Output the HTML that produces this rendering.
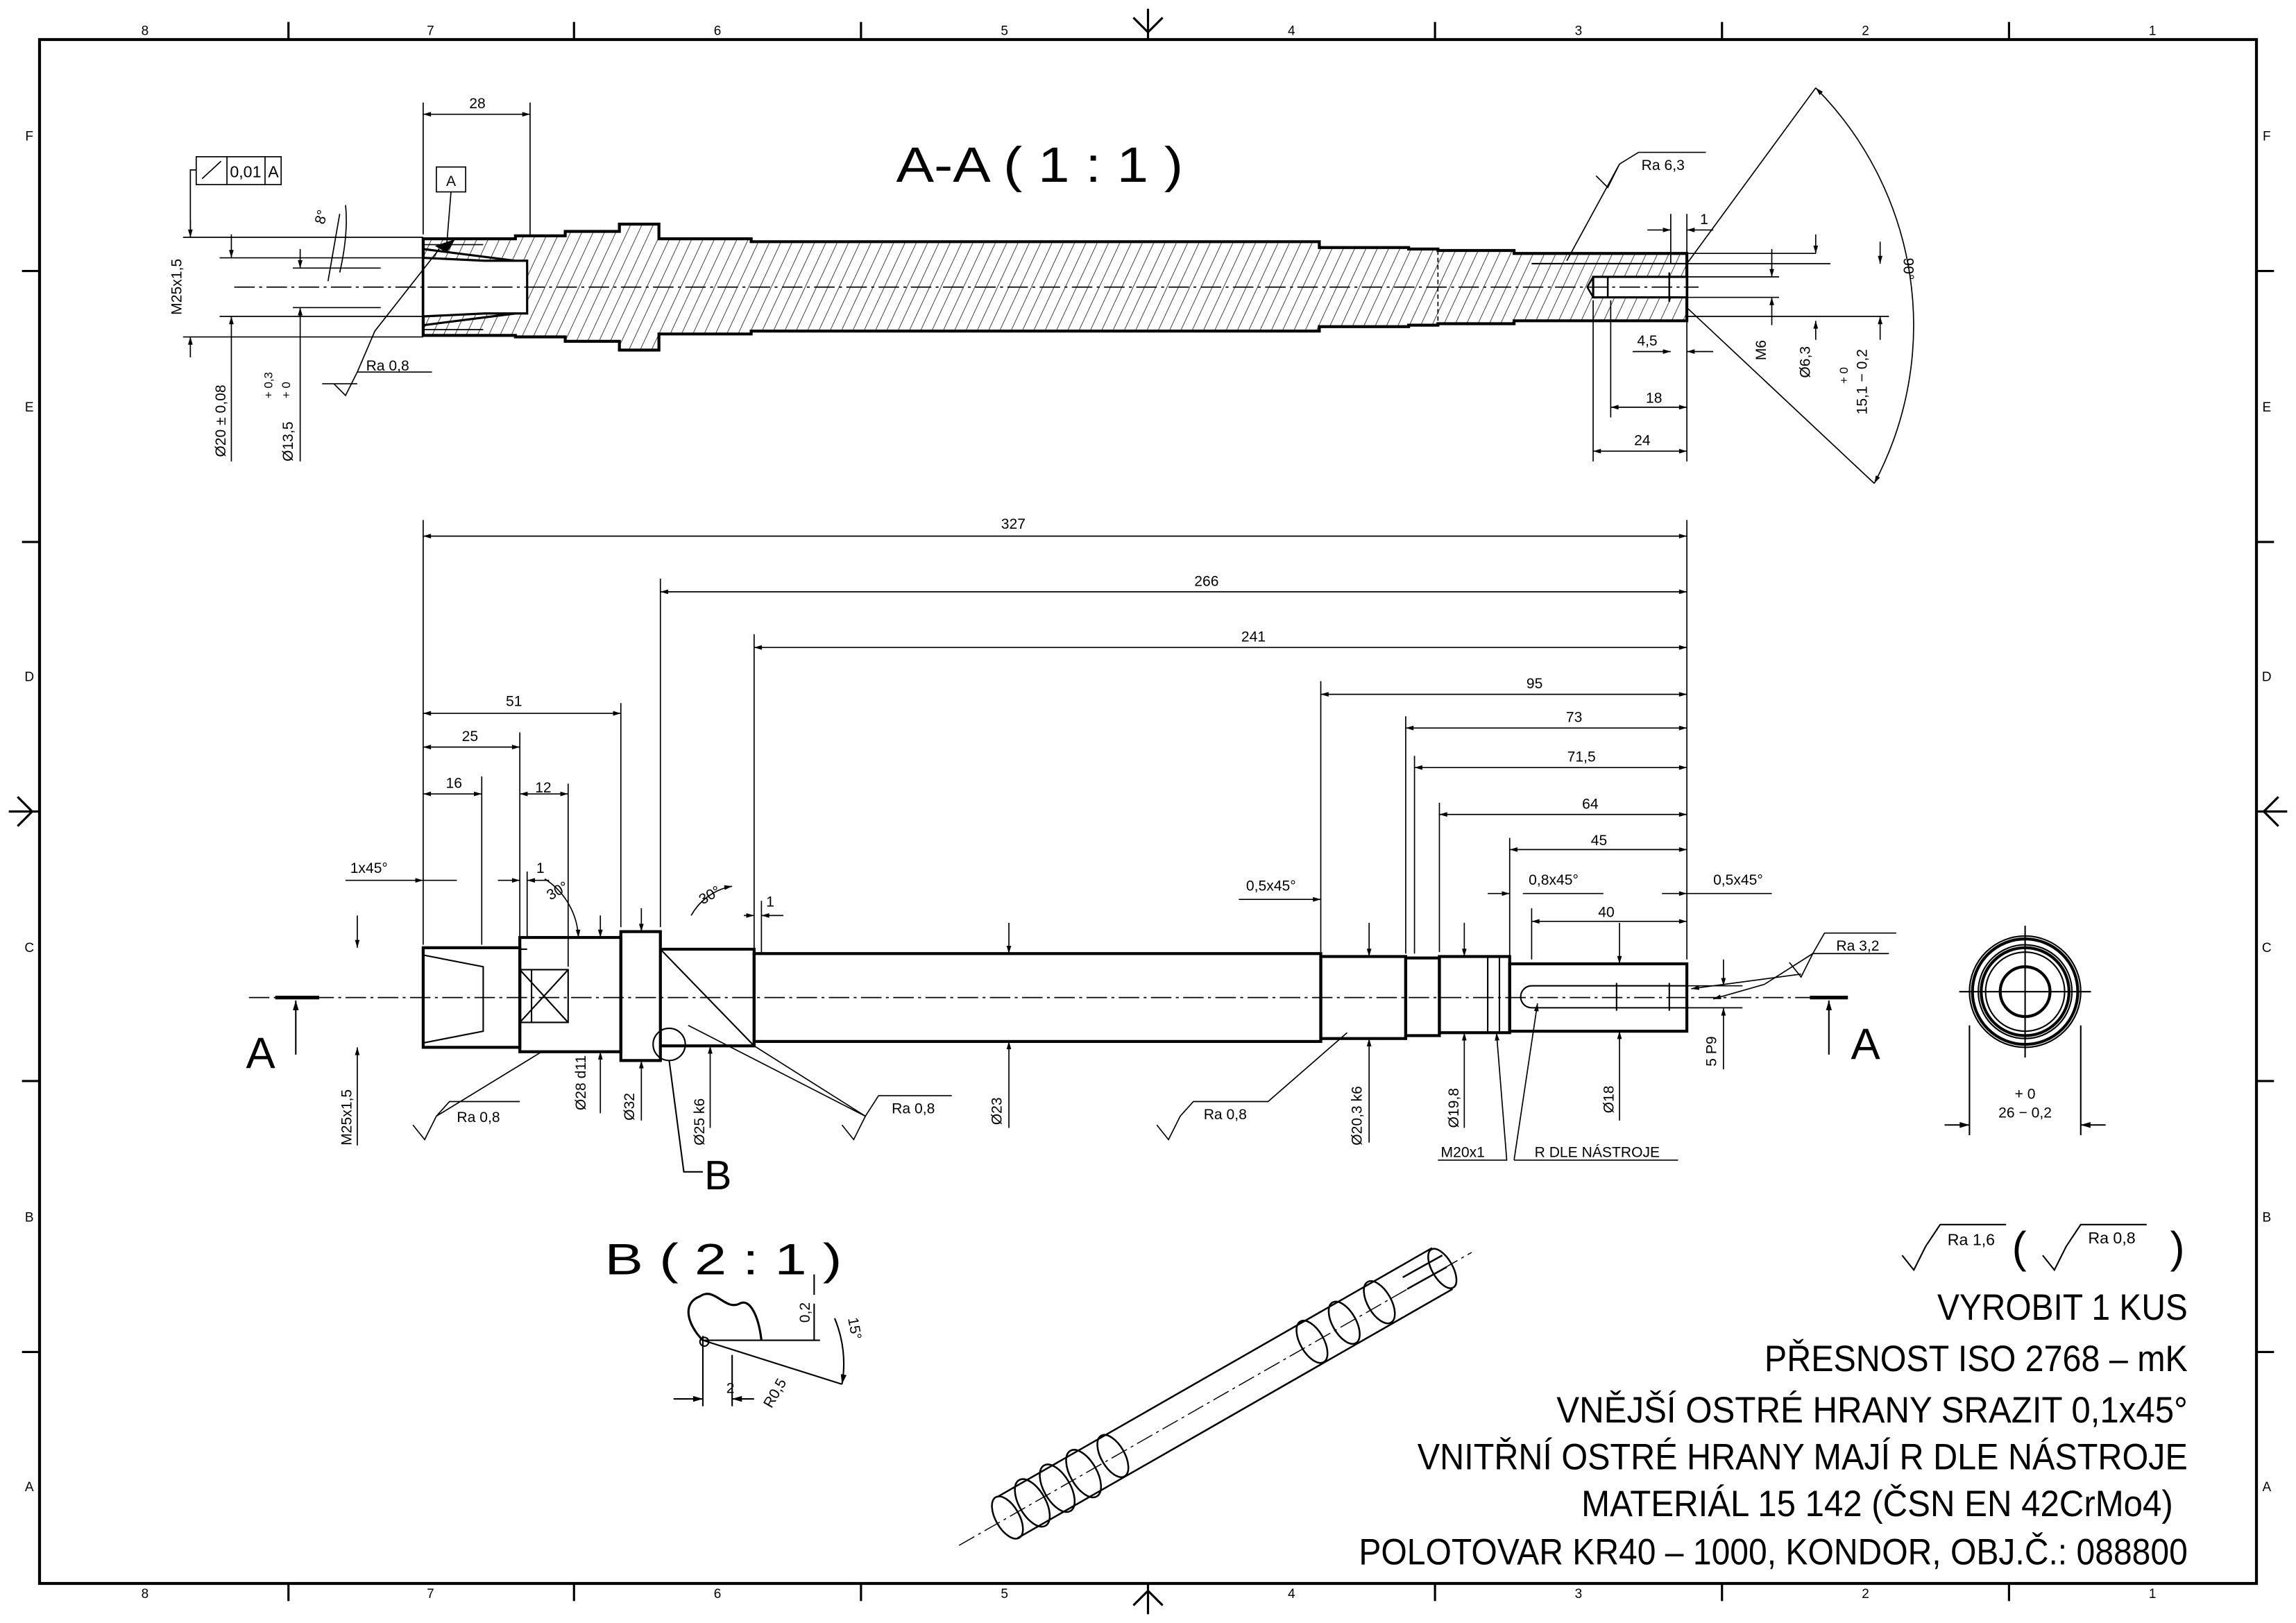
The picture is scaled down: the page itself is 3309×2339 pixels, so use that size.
<!DOCTYPE html>
<html><head><meta charset="utf-8"><style>html,body{margin:0;padding:0;background:#fff}svg{display:block}</style></head>
<body>
<svg width="3309" height="2339" viewBox="0 0 1568 1108" preserveAspectRatio="none" xmlns="http://www.w3.org/2000/svg" font-family="Liberation Sans, DejaVu Sans, sans-serif" fill="none" stroke="#000">
<defs>
<pattern id="h" patternUnits="userSpaceOnUse" width="7" height="7" patternTransform="rotate(25)"><line x1="0" y1="0" x2="0" y2="7" stroke="#000" stroke-width="0.7"/></pattern>
<marker id="a" viewBox="0 0 10 6" refX="10" refY="3" markerWidth="7" markerHeight="4" orient="auto-start-reverse"><path d="M0,0L10,3L0,6z" fill="#000" stroke="none"/></marker>
</defs>
<rect x="0" y="0" width="1568" height="1108" fill="#fff" stroke="none"/>
<rect x="27" y="27" width="1514" height="1054" stroke-width="2"/>
<g stroke-width="1.5">
<path d="M197,15V27M392,15V27M588,15V27M980,15V27M1176,15V27M1372,15V27M197,1081V1093M392,1081V1093M588,1081V1093M980,1081V1093M1176,1081V1093M1372,1081V1093"/>
<path d="M15,185H27M15,370H27M15,738H27M15,923H27M1541,185H1553M1541,370H1553M1541,738H1553M1541,923H1553"/>
<path d="M784,6V27M774,12L784,22L794,12M784,1081V1102M774,1096L784,1086L794,1096M6,554H27M12,544L22,554L12,564M1541,554H1562M1556,544L1546,554L1556,564"/>
</g>
<g fill="#000" stroke="none" font-size="9" text-anchor="middle">
<text x="99" y="24">8</text><text x="294" y="24">7</text><text x="490" y="24">6</text><text x="686" y="24">5</text><text x="882" y="24">4</text><text x="1078" y="24">3</text><text x="1274" y="24">2</text><text x="1470" y="24">1</text>
<text x="99" y="1091">8</text><text x="294" y="1091">7</text><text x="490" y="1091">6</text><text x="686" y="1091">5</text><text x="882" y="1091">4</text><text x="1078" y="1091">3</text><text x="1274" y="1091">2</text><text x="1470" y="1091">1</text>
<text x="20" y="96">F</text><text x="20" y="281">E</text><text x="20" y="465">D</text><text x="20" y="650">C</text><text x="20" y="834">B</text><text x="20" y="1018">A</text>
<text x="1548" y="96">F</text><text x="1548" y="281">E</text><text x="1548" y="465">D</text><text x="1548" y="650">C</text><text x="1548" y="834">B</text><text x="1548" y="1018">A</text>
</g>

<text x="612" y="124" font-size="34" fill="#000" stroke="none" textLength="196" lengthAdjust="spacingAndGlyphs">A-A ( 1 : 1 )</text>
<path d="M289,163H352V161H386V158H423V153H450V163H513V165H901V169H962V170H982V171H1034V173H1152V219H1034V221H982V222H962V223H901V226H513V228H450V239H423V233H386V230H352V229H289Z" fill="url(#h)" stroke-width="2"/>
<path d="M289,176L331,178H360V214H331L289,216Z" fill="#fff" stroke-width="1.5"/>
<path d="M289,170L352,178M289,222L352,214" stroke-width="1.5"/>
<path d="M289,167H330M289,225H330" stroke-width="0.8"/>
<rect x="1088" y="189" width="64" height="14" fill="#fff" stroke-width="1.5"/>
<path d="M1088,189L1084,196L1088,203M1098,189V203M1140,186V206" stroke-width="1.2"/>
<path d="M1046,180H1152" stroke-width="1"/>
<path d="M982,171V221" stroke-width="0.8" stroke-dasharray="3 2"/>
<path d="M160,196H1160" stroke-width="0.8" stroke-dasharray="14 3 2 3"/>
<g stroke-width="0.8">
<path d="M289,70V160M362,70V160"/><path d="M289,78H362" marker-start="url(#a)" marker-end="url(#a)"/>
<text x="326" y="74" font-size="10" fill="#000" stroke="none" text-anchor="middle">28</text>
<rect x="298" y="114" width="20" height="17"/><text x="308" y="127" font-size="10" fill="#000" stroke="none" text-anchor="middle">A</text><path d="M308,131L305,168"/>
<path d="M298,168L310,164L305,172Z" fill="#000"/>
<rect x="134" y="107" width="58" height="19"/><path d="M155,107V126M181,107V126M138,122L151,110"/>
<text x="157" y="121" font-size="11" fill="#000" stroke="none">0,01</text><text x="183" y="121" font-size="11" fill="#000" stroke="none">A</text>
<path d="M134,116H130V162"/>
<path d="M125,162H289M125,230H289M150,176H289M150,216H289M200,183H260M200,210H260"/>
<path d="M130,150V162" marker-end="url(#a)"/><path d="M130,244V230" marker-end="url(#a)"/>
<text transform="translate(124,215) rotate(-90)" font-size="10" fill="#000" stroke="none">M25x1,5</text>
<path d="M158,176V160" marker-start="url(#a)"/><path d="M158,216V315" marker-start="url(#a)"/>
<text transform="translate(154,312) rotate(-90)" font-size="10" fill="#000" stroke="none">Ø20 ± 0,08</text>
<path d="M205,183V170" marker-start="url(#a)"/><path d="M205,210V315" marker-start="url(#a)"/>
<text transform="translate(200,315) rotate(-90)" font-size="10" fill="#000" stroke="none">Ø13,5</text>
<text transform="translate(186,272) rotate(-90)" font-size="8" fill="#000" stroke="none">+ 0,3</text>
<text transform="translate(198,272) rotate(-90)" font-size="8" fill="#000" stroke="none">+ 0</text>
<path d="M228,262L236,270L244,254L256,226L300,170"/><path d="M220,262H244"/><path d="M244,254H295"/>
<text x="250" y="253" font-size="10" fill="#000" stroke="none">Ra 0,8</text>
<path d="M232,146L224,192M236,140 Q238,160 232,186" /><text x="214" y="150" font-size="10" fill="#000" stroke="none" transform="rotate(-75 220 147)">8°</text>
<path d="M1090,120L1098,128L1106,112L1119,104H1165M1106,112L1070,178"/><text x="1121" y="116" font-size="10" fill="#000" stroke="none">Ra 6,3</text>
<path d="M1141,146V180M1152,146V190M1125,157H1141" marker-end="url(#a)"/><path d="M1170,157H1152" marker-end="url(#a)"/>
<text x="1161" y="153" font-size="10" fill="#000" stroke="none">1</text>
<path d="M1152,180H1250M1152,216H1290M1152,189H1215M1152,203H1215M1152,173H1240"/>
<path d="M1088,205V315M1152,205V315M1100,205V285"/>
<path d="M1115,240H1141" marker-end="url(#a)"/><path d="M1170,240H1152" marker-end="url(#a)"/><text x="1118" y="236" font-size="10" fill="#000" stroke="none">4,5</text>
<path d="M1100,278H1152" marker-start="url(#a)" marker-end="url(#a)"/><text x="1124" y="275" font-size="10" fill="#000" stroke="none">18</text>
<path d="M1088,308H1152" marker-start="url(#a)" marker-end="url(#a)"/><text x="1116" y="304" font-size="10" fill="#000" stroke="none">24</text>
<path d="M1210,170V189" marker-end="url(#a)"/><path d="M1210,222V203" marker-end="url(#a)"/>
<text transform="translate(1206,246) rotate(-90)" font-size="10" fill="#000" stroke="none">M6</text>
<path d="M1240,160V173" marker-end="url(#a)"/><path d="M1240,232V219" marker-end="url(#a)"/>
<text transform="translate(1236,258) rotate(-90)" font-size="10" fill="#000" stroke="none">Ø6,3</text>
<path d="M1284,165V180" marker-end="url(#a)"/><path d="M1284,232V216" marker-end="url(#a)"/>
<text transform="translate(1275,283) rotate(-90)" font-size="10" fill="#000" stroke="none">15,1 − 0,2</text>
<text transform="translate(1262,262) rotate(-90)" font-size="8" fill="#000" stroke="none">+ 0</text>
<path d="M1152,180L1240,60M1152,210L1280,330"/>
<path d="M1240,60 A230,230 0 0 1 1280,330" marker-start="url(#a)" marker-end="url(#a)"/>
<text transform="translate(1300,176) rotate(90)" font-size="10" fill="#000" stroke="none">90°</text>
</g>

<g stroke-width="2">
<rect x="289" y="647" width="66" height="68"/>
<rect x="355" y="640" width="69" height="78"/>
<rect x="424" y="636" width="27" height="88"/>
<path d="M451,648H515V714H451"/><path d="M451,648L515,714" stroke-width="1"/>
<rect x="515" y="651" width="387" height="60"/>
<rect x="902" y="653" width="58" height="56"/>
<rect x="960" y="654" width="23" height="53"/>
<rect x="983" y="653" width="48" height="52"/>
<rect x="1031" y="658" width="121" height="46"/>
</g>
<g stroke-width="1">
<path d="M289,652L330,660V704L289,712M330,660V704M355,662H388V698H355ZM355,662L388,698M355,698L388,662M363,662V698"/>
<path d="M355,640V648H360M355,718V710"/>
<path d="M1046,673H1152V688H1046A7,7 0 0 1 1046,673ZM1104,671V690M1140,671V690"/>
<path d="M1016,653V705M1024,653V705"/>
<path d="M170,681H1240" stroke-width="0.8" stroke-dasharray="14 3 2 3"/>
<circle cx="457" cy="713" r="11"/>
</g>
<g stroke-width="2.5"><path d="M188,681H218M1236,681H1262"/></g>
<g stroke-width="1"><path d="M202,720V683" marker-end="url(#a)"/><path d="M1249,720V683" marker-end="url(#a)"/></g>
<text x="168" y="729" font-size="30" fill="#000" stroke="none">A</text>
<text x="1264" y="723" font-size="30" fill="#000" stroke="none">A</text>
<text x="481" y="812" font-size="28" fill="#000" stroke="none">B</text>
<path d="M457,724L467,800H480" stroke-width="1"/>

<g stroke-width="0.8" font-size="10">
<path d="M289,355V645M451,395V633M515,433V648M902,465V650M960,489V651M966,516V651M983,548V650M1031,572V655M1152,355V655M1046,620V655M424,480V633M355,500V640M329,530V645"/>
<path d="M289,366H1152" marker-start="url(#a)" marker-end="url(#a)"/>
<path d="M451,404H1152" marker-start="url(#a)" marker-end="url(#a)"/>
<path d="M515,442H1152" marker-start="url(#a)" marker-end="url(#a)"/>
<path d="M902,474H1152" marker-start="url(#a)" marker-end="url(#a)"/>
<path d="M960,497H1152" marker-start="url(#a)" marker-end="url(#a)"/>
<path d="M966,524H1152" marker-start="url(#a)" marker-end="url(#a)"/>
<path d="M983,556H1152" marker-start="url(#a)" marker-end="url(#a)"/>
<path d="M1031,580H1152" marker-start="url(#a)" marker-end="url(#a)"/>
<path d="M1046,629H1152" marker-start="url(#a)" marker-end="url(#a)"/>
<path d="M289,487H424" marker-start="url(#a)" marker-end="url(#a)"/>
<path d="M289,510H355" marker-start="url(#a)" marker-end="url(#a)"/>
<path d="M289,542H329" marker-start="url(#a)" marker-end="url(#a)"/>
<path d="M355,542H388" marker-start="url(#a)" marker-end="url(#a)"/>
<path d="M388,535V660"/>
<g fill="#000" stroke="none" text-anchor="middle">
<text x="692" y="361">327</text><text x="824" y="400">266</text><text x="856" y="438">241</text>
<text x="1048" y="470">95</text><text x="1075" y="493">73</text><text x="1080" y="520">71,5</text>
<text x="1086" y="552">64</text><text x="1092" y="577">45</text><text x="1097" y="626">40</text>
<text x="351" y="482">51</text><text x="321" y="506">25</text><text x="310" y="538">16</text><text x="371" y="541">12</text>
<text x="252" y="596">1x45°</text><text x="369" y="596">1</text><text x="526" y="619">1</text>
<text x="868" y="608">0,5x45°</text><text x="1061" y="604">0,8x45°</text><text x="1187" y="604">0,5x45°</text>
</g>
<path d="M236,601H289" marker-end="url(#a)"/><path d="M312,601H289"/>
<path d="M340,601H355" marker-end="url(#a)"/><path d="M375,601H360" marker-end="url(#a)"/><path d="M360,595V640"/>
<path d="M508,625H515" marker-end="url(#a)"/><path d="M535,625H520" marker-end="url(#a)"/><path d="M520,615V650"/>
<path d="M846,614H902" marker-end="url(#a)"/><path d="M1016,610H1031" marker-end="url(#a)"/><path d="M1040,610H1095"/>
<path d="M1135,610H1152" marker-end="url(#a)"/><path d="M1210,610H1152"/>
<path d="M372,600 A50,50 0 0 1 395,640" marker-end="url(#a)"/><text x="374" y="612" fill="#000" stroke="none" transform="rotate(-30 380 610)">30°</text>
<path d="M472,625 A40,40 0 0 1 500,605" marker-end="url(#a)"/><text x="478" y="615" fill="#000" stroke="none" transform="rotate(-30 484 613)">30°</text>
<path d="M244,625V647" marker-end="url(#a)"/><path d="M244,782V715" marker-end="url(#a)"/>
<text transform="translate(240,782) rotate(-90)" fill="#000" stroke="none">M25x1,5</text>
<path d="M410,625V640" marker-end="url(#a)"/><path d="M410,760V718" marker-end="url(#a)"/>
<text transform="translate(400,758) rotate(-90)" fill="#000" stroke="none">Ø28 d11</text>
<path d="M438,620V636" marker-end="url(#a)"/><path d="M438,765V724" marker-end="url(#a)"/>
<text transform="translate(433,765) rotate(-90)" fill="#000" stroke="none">Ø32</text>
<path d="M485,770V714" marker-end="url(#a)"/>
<text transform="translate(481,782) rotate(-90)" fill="#000" stroke="none">Ø25 k6</text>
<path d="M689,630V651" marker-end="url(#a)"/><path d="M689,770V711" marker-end="url(#a)"/>
<text transform="translate(684,768) rotate(-90)" fill="#000" stroke="none">Ø23</text>
<path d="M935,630V653" marker-end="url(#a)"/><path d="M935,780V709" marker-end="url(#a)"/>
<text transform="translate(930,782) rotate(-90)" fill="#000" stroke="none">Ø20,3 k6</text>
<path d="M1000,630V653" marker-end="url(#a)"/><path d="M1000,770V705" marker-end="url(#a)"/>
<text transform="translate(996,770) rotate(-90)" fill="#000" stroke="none">Ø19,8</text>
<path d="M1106,630V658" marker-end="url(#a)"/><path d="M1106,765V704" marker-end="url(#a)"/>
<text transform="translate(1102,760) rotate(-90)" fill="#000" stroke="none">Ø18</text>
<path d="M1177,655V673" marker-end="url(#a)"/><path d="M1177,730V688" marker-end="url(#a)"/>
<path d="M1150,673H1190M1150,688H1190"/>
<text transform="translate(1172,728) rotate(-90)" fill="#000" stroke="none">5 P9</text>
<path d="M982,792H1029L1022,705" marker-end="url(#a)"/><text x="984" y="790" fill="#000" stroke="none">M20x1</text>
<path d="M1034,792H1146M1034,792L1050,685" marker-end="url(#a)"/><text x="1048" y="790" fill="#000" stroke="none">R DLE NÁSTROJE</text>
<path d="M282,768L290,778L298,762L307,752H355M298,762L370,718"/><text x="312" y="766" fill="#000" stroke="none">Ra 0,8</text>
<path d="M575,768L583,778L591,762L600,748H650M591,762L470,700M591,762L515,714"/><text x="609" y="760" fill="#000" stroke="none">Ra 0,8</text>
<path d="M790,768L798,778L806,762L815,752H866L920,705"/><text x="822" y="764" fill="#000" stroke="none">Ra 0,8</text>
<path d="M1222,657L1230,667L1238,651L1246,637H1295M1238,651H1290M1230,665L1155,675" marker-end="url(#a)"/>
<path d="M1205,672L1170,682" marker-end="url(#a)"/><path d="M1238,651L1205,672"/>
<text x="1254" y="649" fill="#000" stroke="none">Ra 3,2</text>
</g>

<g stroke-width="1">
<circle cx="1383" cy="677" r="38"/><circle cx="1383" cy="677" r="36" stroke-width="2"/>
<circle cx="1383" cy="677" r="32"/><circle cx="1383" cy="677" r="30" stroke-width="2"/>
<circle cx="1383" cy="677" r="27"/><circle cx="1383" cy="677" r="17" stroke-width="2"/>
<path d="M1338,677H1428M1383,632V722"/>
<path d="M1345,700V775M1421,700V775"/>
<path d="M1328,768H1345" marker-end="url(#a)"/><path d="M1438,768H1421" marker-end="url(#a)"/>
<text x="1383" y="750" font-size="10" fill="#000" stroke="none" text-anchor="middle">+ 0</text>
<text x="1383" y="763" font-size="10" fill="#000" stroke="none" text-anchor="middle">26 − 0,2</text>
</g>

<text x="413" y="870" font-size="30" fill="#000" stroke="none" textLength="162" lengthAdjust="spacingAndGlyphs">B ( 2 : 1 )</text>
<g stroke-width="1">
<path d="M480,915 C470,905 465,890 478,885 C488,878 495,895 505,890 C512,886 518,898 520,915" stroke-width="1.5"/>
<path d="M480,915H560M480,915L575,945M480,912V960M500,925V960M556,890V915M556,870V884" />
<circle cx="481" cy="916" r="3"/>
<path d="M460,955H480" marker-end="url(#a)"/><path d="M515,955H500" marker-end="url(#a)"/>
<text x="496" y="951" font-size="10" fill="#000" stroke="none">2</text>
<text transform="translate(553,903) rotate(-90)" font-size="10" fill="#000" stroke="none">0,2</text>
<path d="M570,900 A80,80 0 0 1 575,945" marker-end="url(#a)"/>
<text x="575" y="905" font-size="10" fill="#000" stroke="none" transform="rotate(80 580 905)">15°</text>
<text x="520" y="960" font-size="10" fill="#000" stroke="none" transform="rotate(-60 525 955)">R0,5</text>
</g>

<g stroke-width="1.2">
<path d="M655,1055L1005,855" stroke-width="0.7" stroke-dasharray="12 3 2 3"/>
<path d="M681,1022L978,852M695,1050L992,880"/>
<ellipse cx="688" cy="1036" rx="8" ry="16" transform="rotate(-30 688 1036)"/>
<ellipse cx="705" cy="1026" rx="9" ry="18" transform="rotate(-30 705 1026)"/>
<ellipse cx="722" cy="1016" rx="9" ry="18" transform="rotate(-30 722 1016)"/>
<ellipse cx="740" cy="1006" rx="9" ry="18" transform="rotate(-30 740 1006)"/>
<ellipse cx="760" cy="994" rx="8" ry="16" transform="rotate(-30 760 994)"/>
<ellipse cx="896" cy="916" rx="8" ry="16" transform="rotate(-30 896 916)"/>
<ellipse cx="918" cy="903" rx="8" ry="16" transform="rotate(-30 918 903)"/>
<ellipse cx="942" cy="889" rx="8" ry="16" transform="rotate(-30 942 889)"/>
<ellipse cx="985" cy="866" rx="7" ry="15" transform="rotate(-30 985 866)"/>
<path d="M958,872L985,857M961,880L988,865"/>
</g>

<g stroke-width="1">
<path d="M1299,857L1307,867L1315,851L1325,836H1370"/><text x="1330" y="850" font-size="11" fill="#000" stroke="none">Ra 1,6</text>
<path d="M1395,857L1403,867L1411,851L1421,836H1466"/><text x="1426" y="849" font-size="11" fill="#000" stroke="none">Ra 0,8</text>
<text x="1374" y="862" font-size="30" fill="#000" stroke="none">(</text><text x="1482" y="862" font-size="30" fill="#000" stroke="none">)</text>
</g>
<g fill="#000" stroke="none" font-size="25">
<text x="1323" y="901" textLength="171" lengthAdjust="spacingAndGlyphs">VYROBIT 1 KUS</text>
<text x="1205" y="936" textLength="289" lengthAdjust="spacingAndGlyphs">PŘESNOST ISO 2768 – mK</text>
<text x="1063" y="971" textLength="431" lengthAdjust="spacingAndGlyphs">VNĚJŠÍ OSTRÉ HRANY SRAZIT 0,1x45°</text>
<text x="968" y="1003" textLength="526" lengthAdjust="spacingAndGlyphs">VNITŘNÍ OSTRÉ HRANY MAJÍ R DLE NÁSTROJE</text>
<text x="1080" y="1035" textLength="404" lengthAdjust="spacingAndGlyphs">MATERIÁL 15 142 (ČSN EN 42CrMo4)</text>
<text x="928" y="1068" textLength="566" lengthAdjust="spacingAndGlyphs">POLOTOVAR KR40 – 1000, KONDOR, OBJ.Č.: 088800</text>
</g>
</svg>
</body></html>
